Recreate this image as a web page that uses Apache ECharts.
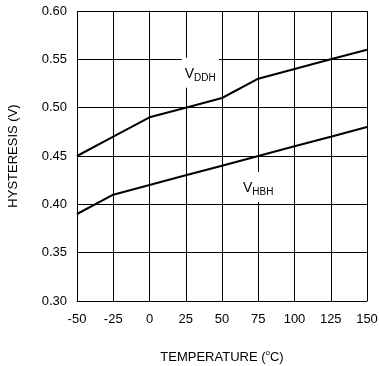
<!DOCTYPE html>
<html><head><meta charset="utf-8">
<script src="https://cdn.jsdelivr.net/npm/echarts@6/dist/echarts.min.js"></script>
<style>html,body{margin:0;padding:0;background:#fff}#c{width:379px;height:366px}</style>
</head><body><div id="c"></div>
<script>
var temps = [-50, -25, 0, 25, 50, 75, 100, 125, 150];
var vddh = [0.45, 0.47, 0.49, 0.50, 0.51, 0.53, 0.54, 0.55, 0.56];
var vhbh = [0.39, 0.41, 0.42, 0.43, 0.44, 0.45, 0.46, 0.47, 0.48];
var xLabels = ['-50', '-25', '0', '25', '50', '75', '100', '125', '150'];
var yLabels = ['0.30', '0.35', '0.40', '0.45', '0.50', '0.55', '0.60'];

function pairs(ys) { return temps.map(function (t, i) { return [t, ys[i]]; }); }
var F = 'Liberation Sans, Arial, sans-serif';
var rich = {
  v: { fontFamily: F, fontSize: 14, color: '#000', lineHeight: 20 },
  s: { fontFamily: F, fontSize: 10, color: '#000', lineHeight: 20, padding: [8, 0, 0, 0] }
};
function lbl(name, sub, coord) {
  return { coord: coord, symbol: 'rect', symbolSize: 1, itemStyle: { color: 'rgba(0,0,0,0)' },
    label: { show: true, position: 'inside', color: '#000',
    formatter: '{v|' + name + '}{s|' + sub + '}', rich: rich, backgroundColor: '#fff', padding: [6, 3, 4, 3] } };
}
var chart = echarts.init(document.getElementById('c'));
chart.setOption({
  animation: false,
  backgroundColor: '#fff',
  grid: { left: 77, right: 12, top: 11, bottom: 65, containLabel: false, outerBoundsMode: 'none' },
  xAxis: {
    type: 'value', min: -50, max: 150, interval: 25,
    name: '{t|TEMPERATURE (}{o|o}{t|C)}', nameLocation: 'middle', nameGap: 48,
    nameTextStyle: { rich: { t: { fontFamily: F, fontSize: 13, color: '#000' }, o: { fontFamily: F, fontSize: 8, color: '#000', padding: [0, 0, 8, 0] } } },
    axisLine: { show: true, lineStyle: { color: '#000', width: 1 } },
    axisTick: { show: false },
    splitLine: { show: true, lineStyle: { color: '#000', width: 1 } },
    axisLabel: { color: '#000', fontFamily: F, fontSize: 13, margin: 12,
      formatter: function (v) { var i = temps.indexOf(v); return i >= 0 ? xLabels[i] : ''; } }
  },
  yAxis: {
    type: 'value', min: 0.30, max: 0.60, interval: 0.05,
    name: 'HYSTERESIS (V)', nameLocation: 'middle', nameGap: 57, nameRotate: 90,
    nameTextStyle: { fontFamily: F, fontSize: 13, color: '#000' },
    axisLine: { show: true, lineStyle: { color: '#000', width: 1 } },
    axisTick: { show: false },
    splitLine: { show: true, lineStyle: { color: '#000', width: 1 } },
    axisLabel: { color: '#000', fontFamily: F, fontSize: 13, margin: 10,
      formatter: function (v) { var i = Math.round((v - 0.30) / 0.05); return yLabels[i] || ''; } }
  },
  series: [
    { type: 'line', data: pairs(vddh), symbol: 'none', lineStyle: { color: '#000', width: 2 },
      markPoint: { silent: true, data: [lbl('V', 'DDH', [35, 0.536])] } },
    { type: 'line', data: pairs(vhbh), symbol: 'none', lineStyle: { color: '#000', width: 2 },
      markPoint: { silent: true, data: [lbl('V', 'HBH', [75, 0.418])] } }
  ]
});
</script></body></html>
